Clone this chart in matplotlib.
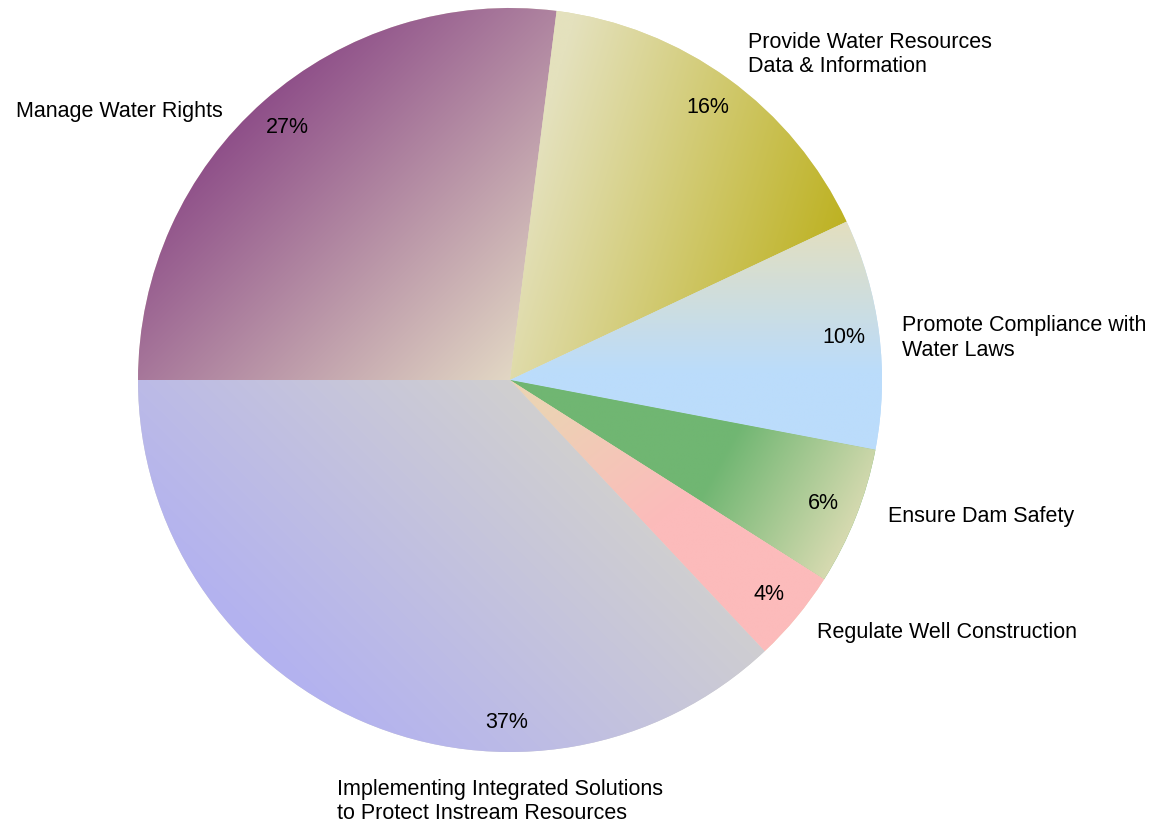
import numpy as np
import matplotlib.pyplot as plt
from matplotlib.colors import to_rgb

plt.rcParams['font.family'] = ['Liberation Sans', 'DejaVu Sans']

categories = [
    "Manage Water Rights",
    "Provide Water Resources\nData & Information",
    "Promote Compliance with\nWater Laws",
    "Ensure Dam Safety",
    "Regulate Well Construction",
    "Implementing Integrated Solutions\nto Protect Instream Resources",
]
shares = [27, 16, 10, 6, 4, 37]

# per-slice gradient: start colour, end colour, start point, end point (pie units)
grad_from = ["#8d4d88", "#e4e1bd", "#e3dfbf", "#70b672", "#ecd3b4", "#b3b2f0"]
grad_to = ["#e2d7c4", "#bcb01c", "#bbdcfb", "#e5dfb9", "#fcbbbb", "#d9d8c6"]
grad_p0 = [(-0.72, 0.72), (0.05, 0.55), (0.9, 0.42), (0.52, -0.3), (0.08, -0.08), (-0.6, -0.8)]
grad_p1 = [(0.0, 0.0), (0.9, 0.3), (0.9, 0.02), (0.92, -0.52), (0.35, -0.42), (0.3, 0.12)]

# category label anchors (left edge / right edge, centre y)
label_xy = [(-0.773, 0.723), (0.64, 0.876), (1.054, 0.113),
            (1.016, -0.366), (0.825, -0.68), (-0.465, -1.134)]
label_ha = ["right", "left", "left", "left", "left", "left"]

W, H = 1162, 827
cx, cy, R = 510, 380, 372

fig = plt.figure(figsize=(W / 100, H / 100), dpi=100)
ax = fig.add_axes([0, 0, 1, 1])

wedges, _, autotexts = ax.pie(
    shares, startangle=180, counterclock=False, radius=1.0,
    autopct="%d%%", pctdistance=0.905,
    wedgeprops=dict(linewidth=0, edgecolor="none"),
    textprops=dict(fontsize=15.5, color="black"),
)

# linear gradient fill clipped to each wedge
n = 600
xs = np.linspace(-1.02, 1.02, n)
ys = np.linspace(-1.02, 1.02, n)
gx, gy = np.meshgrid(xs, ys)
for w, c0, c1, p0, p1 in zip(wedges, grad_from, grad_to, grad_p0, grad_p1):
    d = np.array(p1) - np.array(p0)
    t = ((gx - p0[0]) * d[0] + (gy - p0[1]) * d[1]) / (d @ d)
    t = np.clip(t, 0, 1)[..., None]
    img = np.array(to_rgb(c0)) * (1 - t) + np.array(to_rgb(c1)) * t
    w.set_facecolor(tuple(img[n // 2, n // 2]))
    im = ax.imshow(img, extent=(-1.02, 1.02, -1.02, 1.02), origin="lower",
                   interpolation="bilinear", zorder=1.5)
    im.set_clip_path(w)

for txt in autotexts:
    txt.set_zorder(3)
# the large slice carries its percentage near the bottom of the pie
autotexts[5].set_position((-0.008, -0.922))

for name, (lx, ly), ha in zip(categories, label_xy, label_ha):
    ax.text(lx, ly, name, ha=ha, va="center", fontsize=15.5,
            linespacing=1.2, zorder=3)

ax.set_xlim(-cx / R, (W - cx) / R)
ax.set_ylim(-(H - cy) / R, cy / R)
ax.set_aspect("equal")
ax.axis("off")

fig.savefig("out.png", dpi=100, facecolor="white")
